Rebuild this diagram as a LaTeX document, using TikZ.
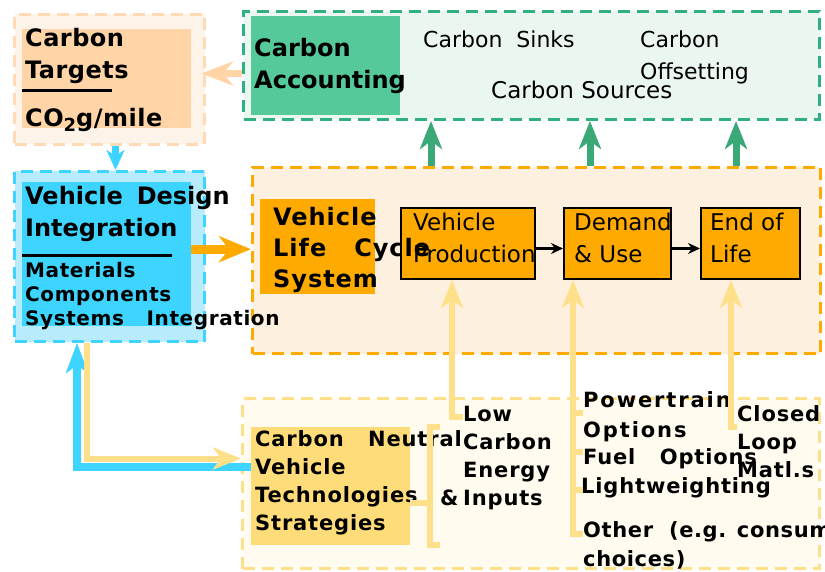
\documentclass[tikz,border=0pt]{standalone}
\usepackage{fontspec}
\setmainfont{DejaVu Sans}
\usetikzlibrary{arrows.meta,positioning}

\definecolor{peach}{HTML}{FFD5A8}
\definecolor{peachbg}{HTML}{FEF3E8}
\definecolor{peachline}{HTML}{FFDAB4}
\definecolor{mint}{HTML}{55C99A}
\definecolor{mintbg}{HTML}{EAF7F0}
\definecolor{mintline}{HTML}{30B080}
\definecolor{greenarr}{HTML}{3BA878}
\definecolor{cyanin}{HTML}{3DD4FF}
\definecolor{cyanbg}{HTML}{B8ECFC}
\definecolor{orangein}{HTML}{FFAA00}
\definecolor{orangebg}{HTML}{FEF0DF}
\definecolor{yellin}{HTML}{FFDC7A}
\definecolor{yellbg}{HTML}{FFFCEF}
\definecolor{yellline}{HTML}{FFE08A}

\tikzset{
  outer/.style={draw, line width=3pt, dash pattern=on 12pt off 7pt, anchor=north west, inner sep=0},
  fillbox/.style={anchor=north west, inner sep=0},
  stagebox/.style={draw=black, line width=2pt, fill=orangein, anchor=north west, inner sep=0, minimum height=71pt},
  head/.style={anchor=north west, inner sep=0, align=left, font=\fontsize{24}{32}\selectfont\bfseries\addfontfeature{LetterSpace=2}},
  subhead/.style={anchor=north west, inner sep=0, align=left, font=\fontsize{20}{24}\selectfont\bfseries\addfontfeature{LetterSpace=3}},
  plain/.style={anchor=north west, inner sep=0, align=left, font=\fontsize{22}{32}\selectfont},
  stagetxt/.style={anchor=north west, inner sep=0, align=left, font=\fontsize{23}{32}\selectfont},
  bottxt/.style={anchor=north west, inner sep=0, align=left, font=\fontsize{21}{28}\selectfont\bfseries\addfontfeature{LetterSpace=4}},
  rule/.style={draw=black, line width=3pt},
  greenarrow/.style={draw=greenarr, line width=7pt, -{Stealth[length=28pt,width=22pt,inset=8pt]}},
  peacharrow/.style={draw=peach, line width=7pt, -{Stealth[length=32pt,width=24pt,inset=10pt]}},
  cyanarrow/.style={draw=cyanin, line width=7pt, -{Stealth[length=20pt,width=18pt,inset=6pt]}},
  orangearrow/.style={draw=orangein, line width=9pt, -{Stealth[length=32pt,width=26pt,inset=10pt]}},
  cyanpath/.style={draw=cyanin, line width=8pt, -{Stealth[length=30pt,width=22pt,inset=8pt]}},
  yellarrow/.style={draw=yellline, line width=6pt, -{Stealth[length=28pt,width=22pt,inset=8pt]}},
  yellline/.style={draw=yellline, line width=6pt},
  stagearrow/.style={draw=black, line width=2.5pt, -{Stealth[length=12pt,width=11pt]}}
}

\begin{document}
\begin{tikzpicture}[x=1pt,y=-1pt]
\useasboundingbox (0,0) rectangle (825,572);

% Carbon targets
\node[outer, draw=peachline, fill=peachbg, minimum width=190pt, minimum height=130pt] (tgtbox) at (13,13) {};
\node[fillbox, fill=peach, minimum width=169pt, minimum height=99pt] (tgtin) at (22,29) {};

% Carbon accounting
\node[outer, draw=mintline, fill=mintbg, minimum width=576pt, minimum height=108pt] (accbox) at (242,10) {};
\node[fillbox, fill=mint, minimum width=149pt, minimum height=99pt] (accin) at (251,16) {};

% Vehicle design integration
\node[outer, draw=cyanin, fill=cyanbg, minimum width=190pt, minimum height=170pt] (vdibox) at (13,170) {};
\node[fillbox, fill=cyanin, minimum width=169pt, minimum height=144pt] (vdiin) at (22,182) {};

% Vehicle life cycle system
\node[outer, draw=orangein, fill=orangebg, minimum width=568pt, minimum height=186pt] (vlcbox) at (251,166) {};
\node[fillbox, fill=orangein, minimum width=115pt, minimum height=95pt] (vlcin) at (260,199) {};
\node[stagebox, minimum width=134pt] (prod) at (400,207) {};
\node[stagebox, minimum width=107pt] (demand) at (563,207) {};
\node[stagebox, minimum width=99pt] (eol) at (700,207) {};

% Carbon neutral technologies
\node[outer, draw=yellline, fill=yellbg, minimum width=577pt, minimum height=170pt] (botbox) at (241,397) {};
\node[fillbox, fill=yellin, minimum width=159pt, minimum height=118pt] (cnvt) at (251,427) {};

% arrows between the boxes
\draw[peacharrow] ([yshift=6pt]accbox.west |- tgtbox.east) -- ([yshift=6pt,xshift=-5pt]tgtbox.east);
\draw[cyanarrow] ([xshift=6pt]tgtbox.south) -- ([xshift=6pt]vdibox.north);
\draw[orangearrow] ([yshift=5pt]vdiin.east) -- ([yshift=5pt]vdiin.east -| vlcbox.west);
\draw[greenarrow] ([xshift=180pt]vlcbox.north west) -- ([xshift=180pt]vlcbox.north west |- accbox.south);
\draw[greenarrow] ([xshift=339pt]vlcbox.north west) -- ([xshift=339pt]vlcbox.north west |- accbox.south);
\draw[greenarrow] ([xshift=485pt]vlcbox.north west) -- ([xshift=485pt]vlcbox.north west |- accbox.south);
\draw[stagearrow] ([yshift=-5pt]prod.east) -- ([yshift=-5pt]demand.west);
\draw[stagearrow] ([yshift=-5pt]demand.east) -- ([yshift=-5pt]eol.west);

% loop between design and technologies
\draw[cyanpath] ([yshift=19pt]cnvt.west) -| ([xshift=64pt]vdibox.south west);
\draw[yellarrow] ([xshift=74pt]vdibox.south west) |- ([yshift=25pt]botbox.west);

% texts
\node[head] (tgttxt) at (25,28) {Carbon\\Targets};
\draw[rule] ([yshift=-62pt]tgtin.north west) -- ++(90,0);
\node[head] (co2txt) at (25,108) {CO{\fontsize{18}{18}\selectfont\raisebox{-5pt}{2}}g/mile};

\node[head, font=\fontsize{24}{32}\selectfont\bfseries] (acctxt) at (254,38) {Carbon\\Accounting};
\node[plain] (sinktxt) at (423,31) {Carbon~~Sinks};
\node[plain, font=\fontsize{23}{32}\selectfont] (sourcetxt) at (491,81) {Carbon Sources};
\node[plain] (offsettxt) at (640,31) {Carbon\\Offsetting};

\node[head, font=\fontsize{24}{32}\selectfont\bfseries] (vditxt) at (25,186) {Vehicle\hspace{14pt}Design\\Integration};
\draw[rule] ([yshift=-74pt]vdiin.north west) -- ++(150,0);
\node[subhead] (matltxt) at (25,262) {Materials\\Components\\Systems~~~Integration};

\node[head, font=\fontsize{24}{31}\selectfont\bfseries\addfontfeature{LetterSpace=4}] (vlctxt) at (273,207) {Vehicle\\Life~~~Cycle\\System};
\node[stagetxt] (prodtxt) at (413,213) {Vehicle\\Production};
\node[stagetxt] (demandtxt) at (574,213) {Demand\\\& Use};
\node[stagetxt] (eoltxt) at (710,213) {End of\\Life};

\node[bottxt] (cnvttxt) at (255,430) {Carbon~~~Neutral\\Vehicle\\Technologies\\Strategies};
\node[bottxt] (amptxt) at (440,490) {\&};
\node[bottxt] (lowtxt) at (463,406) {Low\\Carbon\\Energy\\Inputs};
\node[bottxt, font=\fontsize{21}{30}\selectfont\bfseries\addfontfeature{LetterSpace=9}] (pttxt) at (583,391) {Powertrain\\Options};
\node[bottxt] (fueltxt) at (583,448) {Fuel~~~Options};
\node[bottxt] (lwtxt) at (581,477) {Lightweighting};
\node[bottxt, font=\fontsize{21}{29}\selectfont\bfseries\addfontfeature{LetterSpace=3}] (othertxt) at (583,521) {Other~~(e.g. consumer\\choices)};
\node[bottxt] (closedtxt) at (737,405) {Closed\\Loop\\Matl.s};

% bracket of the technologies box
\draw[yellline] ([xshift=30pt]cnvt.north east) -- ([xshift=20pt]cnvt.north east)
  -- ([xshift=20pt]cnvt.south east) -- ([xshift=30pt]cnvt.south east);
\draw[yellline] ([yshift=-17pt]cnvt.east) -- ++(20,0);

% inputs to the life cycle stages
\draw[yellarrow] ([yshift=-11pt]lowtxt.north west) -| ([xshift=52pt]prod.south west);
\draw[yellarrow] ([yshift=-13pt]othertxt.north west) -| ([xshift=10pt]demand.south west);
\draw[yellline] ([yshift=-22pt]pttxt.north west) -- ++(-10,0);
\draw[yellline] ([yshift=-4pt]fueltxt.north west) -- ++(-10,0);
\draw[yellline] ([yshift=-13pt,xshift=2pt]lwtxt.north west) -- ++(-12,0);
\draw[yellarrow] ([yshift=-22pt]closedtxt.north west) -| ([xshift=31pt]eol.south west);

\end{tikzpicture}
\end{document}
